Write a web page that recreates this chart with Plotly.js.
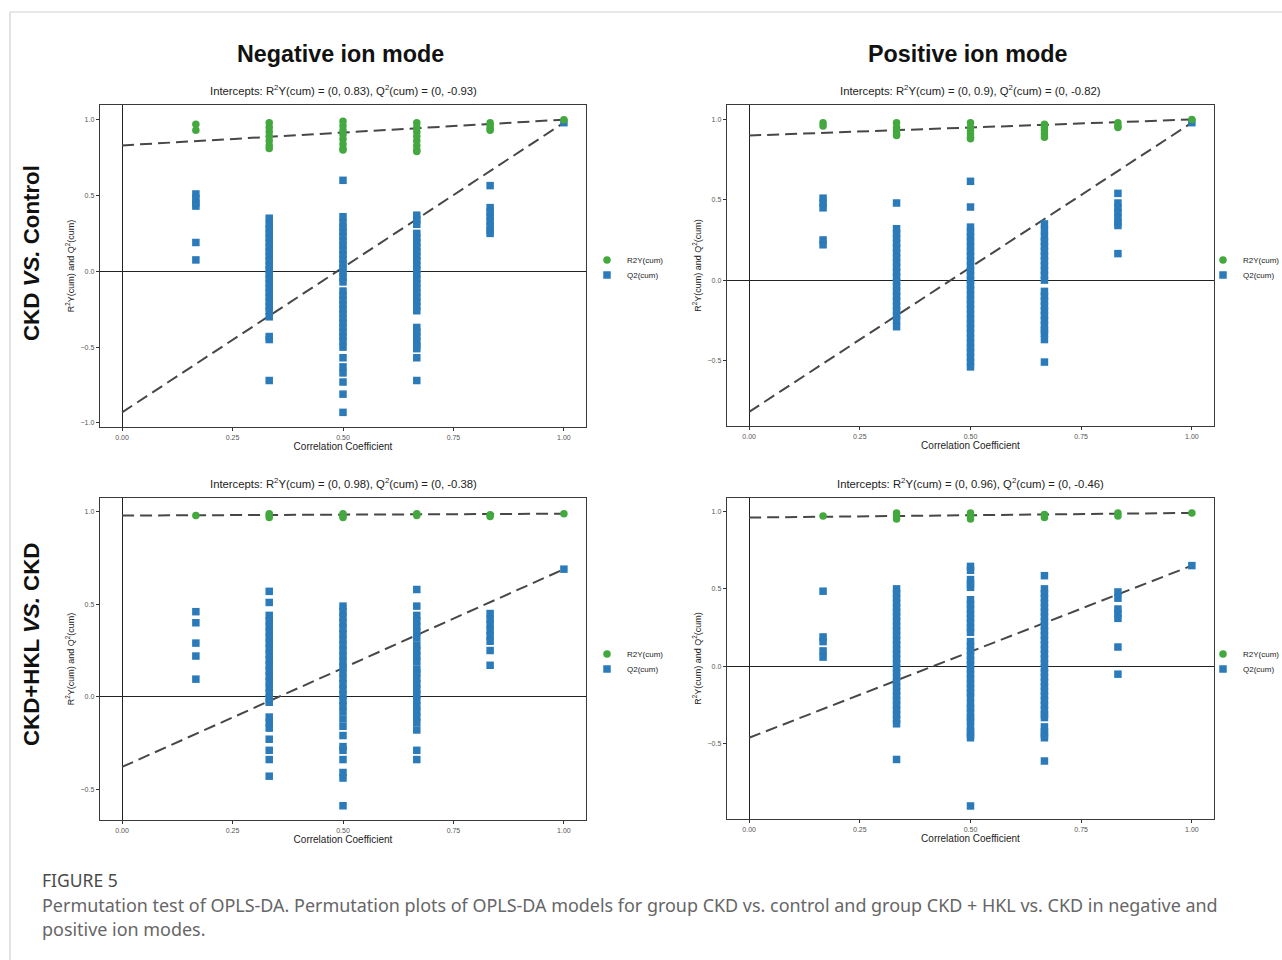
<!DOCTYPE html>
<html>
<head>
<meta charset="utf-8">
<script src="https://cdn.plot.ly/plotly-3.0.1.min.js"></script>
<style>
  html, body { margin: 0; padding: 0; background: #fff; overflow: hidden; }
  #chart { width: 1282px; height: 960px; }
</style>
</head>
<body>
<div id="chart"></div>
<script>
// ---------------- DATA ----------------
const corrCoef = [0.167, 0.333, 0.5, 0.667, 0.833, 1.0];
const xTickVals = [0, 0.25, 0.5, 0.75, 1.0];
const yTickVals = [-1.0, -0.5, 0.0, 0.5, 1.0];
const columnTitles = ["Negative ion mode", "Positive ion mode"];
const rowTitles = ["CKD <i>VS.</i> Control", "CKD+HKL <i>VS.</i> CKD"];
const legendNames = ["R2Y(cum)", "Q2(cum)"];

// Panel 1: negative ion mode, CKD vs Control
const negCtrlR2 = [
  [0.97, 0.93],
  [0.98, 0.95, 0.92, 0.89, 0.86, 0.83, 0.81],
  [0.99, 0.96, 0.93, 0.90, 0.87, 0.84, 0.81, 0.80],
  [0.98, 0.95, 0.92, 0.89, 0.86, 0.83, 0.80, 0.79],
  [0.98, 0.96, 0.94, 0.93],
  [1.0]
];
const negCtrlQ2 = [
  [0.51, 0.48, 0.45, 0.43, 0.19, 0.075],
  [0.35, 0.31, 0.28, 0.25, 0.22, 0.19, 0.16, 0.13, 0.10, 0.07, 0.04, 0.01, -0.02, -0.05, -0.08, -0.11, -0.14, -0.17, -0.20, -0.23, -0.26, -0.30, -0.43, -0.45, -0.72],
  [0.60, 0.36, 0.32, 0.29, 0.26, 0.23, 0.20, 0.17, 0.14, 0.11, 0.08, 0.05, 0.02, -0.01, -0.04, -0.07, -0.13, -0.16, -0.19, -0.22, -0.25, -0.28, -0.31, -0.34, -0.37, -0.40, -0.43, -0.46, -0.50, -0.57, -0.63, -0.67, -0.73, -0.81, -0.93],
  [0.37, 0.34, 0.31, 0.25, 0.22, 0.19, 0.16, 0.13, 0.10, 0.07, 0.04, 0.01, -0.02, -0.05, -0.08, -0.11, -0.14, -0.17, -0.20, -0.23, -0.26, -0.37, -0.40, -0.43, -0.46, -0.49, -0.51, -0.57, -0.72],
  [0.565, 0.42, 0.39, 0.36, 0.33, 0.30, 0.27, 0.25],
  [0.98]
];
const negCtrlIntercepts = [0.83, -0.93]; // R2Y, Q2

// Panel 2: positive ion mode, CKD vs Control
const posCtrlR2 = [
  [0.98, 0.96],
  [0.98, 0.95, 0.93, 0.91, 0.90],
  [0.98, 0.95, 0.93, 0.91, 0.89, 0.88],
  [0.97, 0.95, 0.93, 0.91, 0.89],
  [0.98, 0.96, 0.95],
  [1.0]
];
const posCtrlQ2 = [
  [0.51, 0.48, 0.45, 0.25, 0.22],
  [0.48, 0.32, 0.29, 0.26, 0.23, 0.20, 0.17, 0.14, 0.11, 0.08, 0.05, 0.02, -0.01, -0.04, -0.07, -0.10, -0.13, -0.16, -0.19, -0.22, -0.25, -0.29],
  [0.615, 0.455, 0.33, 0.30, 0.27, 0.24, 0.21, 0.18, 0.15, 0.12, 0.09, 0.06, 0.03, 0.0, -0.03, -0.06, -0.09, -0.12, -0.15, -0.18, -0.21, -0.24, -0.27, -0.30, -0.33, -0.36, -0.39, -0.42, -0.45, -0.48, -0.51, -0.54],
  [0.35, 0.31, 0.27, 0.24, 0.21, 0.18, 0.15, 0.12, 0.09, 0.06, 0.03, 0.0, -0.07, -0.10, -0.13, -0.16, -0.19, -0.22, -0.25, -0.28, -0.31, -0.33, -0.37, -0.51],
  [0.54, 0.48, 0.45, 0.42, 0.39, 0.36, 0.34, 0.165],
  [0.98]
];
const posCtrlIntercepts = [0.9, -0.82];

// Panel 3: negative ion mode, CKD+HKL vs CKD
const negHklR2 = [
  [0.98],
  [0.99, 0.98, 0.97],
  [0.99, 0.98, 0.97],
  [0.99, 0.98],
  [0.985, 0.975],
  [0.99]
];
const negHklQ2 = [
  [0.46, 0.40, 0.29, 0.22, 0.095],
  [0.57, 0.51, 0.44, 0.41, 0.38, 0.35, 0.32, 0.29, 0.26, 0.23, 0.20, 0.17, 0.14, 0.11, 0.08, 0.05, 0.02, -0.01, -0.03, -0.11, -0.14, -0.17, -0.23, -0.29, -0.34, -0.43],
  [0.49, 0.46, 0.43, 0.40, 0.37, 0.34, 0.31, 0.28, 0.25, 0.22, 0.19, 0.16, 0.13, 0.10, 0.07, 0.04, 0.01, -0.02, -0.05, -0.08, -0.12, -0.16, -0.21, -0.27, -0.29, -0.34, -0.41, -0.44, -0.59],
  [0.58, 0.49, 0.44, 0.41, 0.38, 0.35, 0.32, 0.28, 0.25, 0.22, 0.19, 0.15, 0.13, 0.10, 0.07, 0.04, 0.01, -0.02, -0.05, -0.08, -0.11, -0.14, -0.18, -0.29, -0.34],
  [0.45, 0.42, 0.39, 0.36, 0.33, 0.30, 0.25, 0.17],
  [0.69]
];
const negHklIntercepts = [0.98, -0.38];

// Panel 4: positive ion mode, CKD+HKL vs CKD
const posHklR2 = [
  [0.97],
  [0.99, 0.97, 0.95],
  [0.99, 0.97, 0.95],
  [0.98, 0.96],
  [0.99, 0.97],
  [0.99]
];
const posHklQ2 = [
  [0.485, 0.19, 0.16, 0.10, 0.06],
  [0.50, 0.47, 0.44, 0.41, 0.38, 0.35, 0.32, 0.29, 0.26, 0.23, 0.20, 0.17, 0.14, 0.11, 0.08, 0.05, 0.02, -0.01, -0.04, -0.07, -0.10, -0.13, -0.16, -0.19, -0.22, -0.25, -0.28, -0.31, -0.34, -0.37, -0.60],
  [0.645, 0.62, 0.56, 0.53, 0.51, 0.43, 0.40, 0.37, 0.34, 0.31, 0.28, 0.25, 0.22, 0.16, 0.13, 0.10, 0.07, 0.04, 0.01, -0.02, -0.05, -0.08, -0.11, -0.14, -0.17, -0.20, -0.24, -0.27, -0.30, -0.33, -0.35, -0.39, -0.42, -0.44, -0.46, -0.90],
  [0.585, 0.50, 0.47, 0.44, 0.41, 0.38, 0.35, 0.32, 0.29, 0.26, 0.23, 0.20, 0.17, 0.14, 0.11, 0.08, 0.05, 0.02, -0.01, -0.04, -0.07, -0.10, -0.13, -0.16, -0.19, -0.22, -0.25, -0.28, -0.31, -0.33, -0.39, -0.42, -0.44, -0.46, -0.61],
  [0.48, 0.44, 0.37, 0.34, 0.31, 0.125, -0.05],
  [0.65]
];
const posHklIntercepts = [0.96, -0.46];

const captionTitle = "FIGURE 5";
const captionLines = [
  "Permutation test of OPLS-DA. Permutation plots of OPLS-DA models for group CKD vs. control and group CKD + HKL vs. CKD in negative and",
  "positive ion modes."
];

// ---------------- STYLE / LAYOUT ----------------
const W = 1282, H = 960;
const px = v => v / W;
const py = v => 1 - v / H;
const GREEN = '#43a93f';
const BLUE = '#2b7bba';
const LINE = '#474747';
const FONT = 'Liberation Sans, Arial, Helvetica, sans-serif';

const panels = [
  { r2: negCtrlR2, q2: negCtrlQ2, icpt: negCtrlIntercepts, box: [100, 586, 105, 427], yr: [-1.0265, 1.0965], leg: [587, 260] },
  { r2: posCtrlR2, q2: posCtrlQ2, icpt: posCtrlIntercepts, box: [727, 1214, 105, 426], yr: [-0.908, 1.090], leg: [1203, 260] },
  { r2: negHklR2, q2: negHklQ2, icpt: negHklIntercepts, box: [100, 586, 498, 820], yr: [-0.667, 1.075], leg: [587, 654] },
  { r2: posHklR2, q2: posHklQ2, icpt: posHklIntercepts, box: [727, 1214, 498, 819], yr: [-0.984, 1.086], leg: [1203, 654] }
];

function flatten(groups) {
  const xs = [], ys = [];
  groups.forEach((g, i) => g.forEach(v => { xs.push(corrCoef[i]); ys.push(v); }));
  return { xs, ys };
}

const traces = [];
const layout = {
  width: W, height: H,
  margin: { l: 0, r: 0, t: 0, b: 0, autoexpand: false },
  paper_bgcolor: '#fff', plot_bgcolor: '#fff',
  font: { family: FONT, color: '#222' },
  annotations: [], shapes: []
};

function legendBox(x, y) {
  return {
    x: px(x), y: py(y), xanchor: 'left', yanchor: 'middle',
    font: { size: 8, color: '#222', family: FONT }, bgcolor: 'rgba(0,0,0,0)',
    borderwidth: 0, tracegroupgap: 0, itemwidth: 30
  };
}

panels.forEach((p, i) => {
  const n = i + 1;
  const xa = n === 1 ? 'x' : 'x' + n;
  const ya = n === 1 ? 'y' : 'y' + n;
  const legA = 'legend' + (2 * i === 0 ? '' : 2 * i + 1);
  const legB = 'legend' + (2 * i + 2);
  const last = corrCoef.length - 1;

  // dashed regression lines (intercept -> original model)
  traces.push({
    x: [0, corrCoef[last]], y: [p.icpt[0], p.r2[last][0]],
    xaxis: xa, yaxis: ya, mode: 'lines', showlegend: false, hoverinfo: 'skip',
    line: { color: LINE, width: 2, dash: '12px,6px' }
  });
  traces.push({
    x: [0, corrCoef[last]], y: [p.icpt[1], p.q2[last][0]],
    xaxis: xa, yaxis: ya, mode: 'lines', showlegend: false, hoverinfo: 'skip',
    line: { color: LINE, width: 2, dash: '12px,6px' }
  });

  const r2 = flatten(p.r2), q2 = flatten(p.q2);
  traces.push({
    x: q2.xs, y: q2.ys, xaxis: xa, yaxis: ya, type: 'scatter', mode: 'markers',
    name: legendNames[1], legend: legB,
    marker: { symbol: 'square', size: 7.5, color: BLUE, line: { width: 0 } }
  });
  traces.push({
    x: r2.xs, y: r2.ys, xaxis: xa, yaxis: ya, type: 'scatter', mode: 'markers',
    name: legendNames[0], legend: legA,
    marker: { symbol: 'circle', size: 7.5, color: GREEN, line: { width: 0 } }
  });

  const [l, r, t, b] = p.box;
  layout['xaxis' + (n === 1 ? '' : n)] = {
    domain: [px(l), px(r)], anchor: ya, range: [-0.05, 1.05],
    tickvals: xTickVals, tickformat: '.2f',
    ticks: 'outside', ticklen: 3, tickwidth: 1, tickcolor: '#333',
    tickfont: { size: 7, color: '#555', family: FONT },
    showgrid: false, zeroline: true, zerolinecolor: '#222', zerolinewidth: 1,
    showline: true, mirror: true, linecolor: '#3a3a3a', linewidth: 1.3,
    title: { text: 'Correlation Coefficient', font: { size: 10, color: '#222', family: FONT }, standoff: 2 }
  };
  layout['yaxis' + (n === 1 ? '' : n)] = {
    domain: [py(b), py(t)], anchor: xa, range: p.yr,
    tickvals: yTickVals, tickformat: '.1f',
    ticks: 'outside', ticklen: 3, tickwidth: 1, tickcolor: '#333',
    tickfont: { size: 7, color: '#555', family: FONT },
    showgrid: false, zeroline: true, zerolinecolor: '#222', zerolinewidth: 1,
    showline: true, mirror: true, linecolor: '#3a3a3a', linewidth: 1.3,
    title: { text: 'R<sup>2</sup>Y(cum) and Q<sup>2</sup>(cum)', font: { size: 9, color: '#222', family: FONT }, standoff: 4 }
  };
  layout[legA] = legendBox(p.leg[0], p.leg[1]);
  layout[legB] = legendBox(p.leg[0], p.leg[1] + 15);

  // intercept subtitle
  layout.annotations.push({
    xref: 'paper', yref: 'paper', x: px((l + r) / 2), y: py(t - 15),
    xanchor: 'center', yanchor: 'middle', showarrow: false,
    text: 'Intercepts: R<sup>2</sup>Y(cum) = (0, ' + p.icpt[0] + '), Q<sup>2</sup>(cum) = (0, ' + p.icpt[1] + ')',
    font: { size: 11.3, color: '#222', family: FONT }
  });
});

// column titles
[[340, columnTitles[0]], [967, columnTitles[1]]].forEach(([x, txt]) => {
  layout.annotations.push({
    xref: 'paper', yref: 'paper', x: px(x), y: py(54), xanchor: 'center', yanchor: 'middle',
    showarrow: false, text: '<b>' + txt + '</b>', font: { size: 23.3, color: '#111', family: FONT }
  });
});
// row titles
[[253, rowTitles[0]], [645, rowTitles[1]]].forEach(([y, txt]) => {
  layout.annotations.push({
    xref: 'paper', yref: 'paper', x: px(31), y: py(y), xanchor: 'center', yanchor: 'middle',
    showarrow: false, textangle: -90, text: '<b>' + txt + '</b>', font: { size: 22.3, color: '#111', family: FONT }
  });
});
// caption
layout.annotations.push({
  xref: 'paper', yref: 'paper', x: px(40), y: py(880), xanchor: 'left', yanchor: 'middle',
  showarrow: false, text: captionTitle, font: { size: 17.5, color: '#4a4a4a', family: 'Noto Sans, sans-serif' }
});
captionLines.forEach((line, k) => {
  layout.annotations.push({
    xref: 'paper', yref: 'paper', x: px(40), y: py(905 + k * 24), xanchor: 'left', yanchor: 'middle',
    showarrow: false, text: line, font: { size: 17.95, color: '#666', family: 'Noto Sans, sans-serif' }
  });
});

// page frame lines
layout.shapes.push({ type: 'line', xref: 'paper', yref: 'paper', x0: px(10), x1: 1, y0: py(12), y1: py(12), line: { color: '#cfcfcf', width: 1.2 } });
layout.shapes.push({ type: 'line', xref: 'paper', yref: 'paper', x0: px(10), x1: px(10), y0: py(12), y1: 0, line: { color: '#cfcfcf', width: 1.2 } });

Plotly.newPlot('chart', traces, layout, { staticPlot: true, displayModeBar: false });
</script>
</body>
</html>
